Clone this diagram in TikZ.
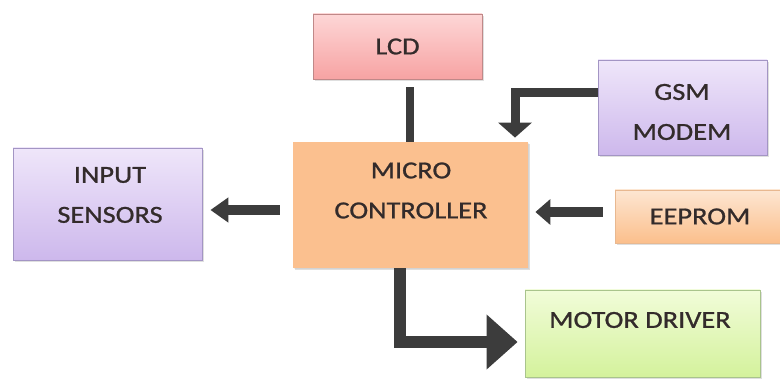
\documentclass[tikz,border=0pt]{standalone}
\usepackage{fontspec}
\setmainfont{Carlito}[FakeStretch=1.16,FakeBold=0.9]
\usetikzlibrary{arrows.meta,shadows}
\definecolor{txt}{HTML}{332B2B}
\definecolor{arr}{HTML}{3C3C3C}
\definecolor{lcdT}{HTML}{FDD6D6}\definecolor{lcdB}{HTML}{F7A3A3}\definecolor{lcdD}{HTML}{C08888}
\definecolor{gsmT}{HTML}{EFE6FA}\definecolor{gsmB}{HTML}{CDB8EC}\definecolor{gsmD}{HTML}{A395C4}
\definecolor{mcF}{HTML}{FBC08F}
\definecolor{eepT}{HTML}{FDE6D2}\definecolor{eepB}{HTML}{FBBF8C}\definecolor{eepD}{HTML}{E8B890}
\definecolor{motT}{HTML}{F1FCD9}\definecolor{motB}{HTML}{D4F29C}\definecolor{motD}{HTML}{A9C48C}
\begin{document}
\begin{tikzpicture}[x=1pt,y=-1pt,
  box/.style={inner sep=0pt, line width=0.8pt,
    drop shadow={opacity=0.25, shadow xshift=1.5pt, shadow yshift=-2pt}},
  lbl/.style={text=txt, align=center, font=\fontsize{24.5}{40}\selectfont, inner sep=0pt},
  conn/.style={draw=arr, line join=miter}]
\useasboundingbox (0,0) rectangle (780,379);
\clip (0,0) rectangle (780,379);
\fill[white] (0,0) rectangle (780,379);

% boxes
\node[box, draw=lcdD, top color=lcdT, bottom color=lcdB, minimum width=169pt, minimum height=65pt,
      text=txt, font=\fontsize{24.5}{40}\selectfont] (lcd) at (397.5,46.5) {LCD};
\node[box, fill=mcF, drop shadow={opacity=0.12, shadow xshift=1pt, shadow yshift=-1.5pt}, minimum width=235pt, minimum height=126pt] (mc) at (410.5,205) {};
\node[lbl] (mctext) at (411,190.5) {MICRO\\CONTROLLER};
\node[box, draw=gsmD, top color=gsmT, bottom color=gsmB, minimum width=169pt, minimum height=95pt] (gsm) at (682.5,107.5) {};
\node[lbl] (gsmtext) at (682,112) {GSM\\MODEM};
\node[box, draw=gsmD, top color=gsmT, bottom color=gsmB, minimum width=189pt, minimum height=112pt] (inp) at (107.5,204) {};
\node[lbl] (inptext) at (110,195) {INPUT\\SENSORS};
\node[box, draw=eepD, top color=eepT, bottom color=eepB, minimum width=170pt, minimum height=53pt,
      text=txt, font=\fontsize{24.5}{40}\selectfont] (eep) at (700,216.5) {EEPROM};
\node[box, draw=motD, top color=motT, bottom color=motB, minimum width=235pt, minimum height=87pt] (mot) at (642.5,333.5) {};
\node[lbl] (mottext) at (640,320) {MOTOR DRIVER};

% connectors
\draw[conn, line width=8pt] ([xshift=12.5pt,yshift=-8pt]lcd.south) -- ([xshift=12.5pt]lcd.south |- mc.north);
\draw[conn, line width=9pt, -{Triangle[width=33pt,length=15pt]}, shorten >=4pt]
  ([yshift=14.5pt]gsm.west) -| ([xshift=104.5pt]mc.north);
\draw[conn, line width=10pt, -{Triangle[width=24pt,length=18pt]}, shorten <=13pt, shorten >=8pt]
  ([yshift=-5pt]mc.west) -- ([yshift=-5pt]mc.west -| inp.east);
\draw[conn, line width=10pt, -{Triangle[width=25pt,length=15pt]}, shorten <=12pt, shorten >=7pt]
  ([yshift=4.5pt]eep.west) -- ([yshift=4.5pt]eep.west -| mc.east);
\draw[conn, line width=12pt, -{Triangle[width=53pt,length=31pt]}, shorten >=7pt]
  ([xshift=-10.5pt]mc.south) |- ([yshift=-8.5pt]mot.west);
\end{tikzpicture}
\end{document}
